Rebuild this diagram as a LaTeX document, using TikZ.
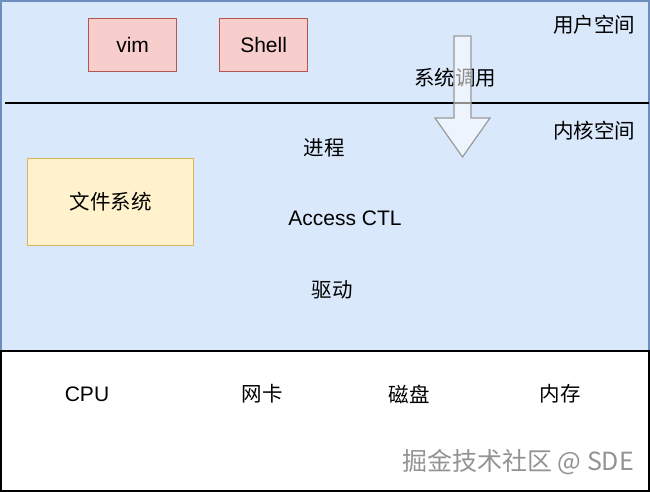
\documentclass[tikz,border=0pt]{standalone}
\usepackage{fontspec}
\setmainfont{Liberation Sans}
\newfontfamily\cjk{Noto Sans CJK SC}
\definecolor{kfill}{HTML}{DAE8FC}
\definecolor{kline}{HTML}{6C8EBF}
\definecolor{rfill}{HTML}{F8CECC}
\definecolor{rline}{HTML}{B85450}
\definecolor{yfill}{HTML}{FFF2CC}
\definecolor{yline}{HTML}{D6B656}
\tikzset{
  lbl/.style={inner sep=0pt, font=\fontsize{21}{24}\selectfont},
  cjklbl/.style={inner sep=0pt, font=\cjk\fontsize{20.5}{24}\selectfont},
  appbox/.style={draw=rline, fill=rfill, line width=1.2pt},
  fsbox/.style={draw=yline, fill=yfill, line width=1.2pt},
}
\begin{document}
\begin{tikzpicture}[x=1pt,y=-1pt]
\useasboundingbox (0,0) rectangle (650,492);
% kernel/user region
\draw[draw=kline, fill=kfill, line width=1.2pt] (1,1) rectangle (649,351);
% hardware region
\draw[draw=black, line width=1.2pt] (1,351) rectangle (649,491);
% separator
\coordinate (sepL) at (5,103);
\coordinate (sepR) at (649,103);
\draw[line width=1.2pt] (sepL) -- (sepR);
% apps
\node[appbox, minimum width=88pt, minimum height=53pt, anchor=north west] (vim) at (88,18) {};
\node[lbl] at (vim.center) {vim};
\node[appbox, minimum width=88pt, minimum height=53pt, anchor=north west] (shell) at (219,18) {};
\node[lbl] at (shell.center) {Shell};
% labels
\node[cjklbl] (user) at (594,25) {用户空间};
\node[cjklbl] (kern) at (594,131) {内核空间};
\node[cjklbl] (syscall) at (455,78) {系统调用};
% arrow
\draw[draw=gray!80, fill=white, fill opacity=0.55, line width=1.2pt]
  (454,36) -- (471,36) -- (471,118) -- (490,118) -- (462.5,157) -- (435,118) -- (454,118) -- cycle;
% kernel items
\node[cjklbl] (proc) at (324,148) {进程};
\node[lbl] (acl) at (345,218) {Access CTL};
\node[cjklbl] (drv) at (332,290) {驱动};
\node[fsbox, minimum width=166pt, minimum height=87pt, anchor=north west] (fs) at (27,158) {};
\node[cjklbl] at (fs.center) {文件系统};
% hardware
\node[lbl] (cpu) at (87,394) {CPU};
\node[cjklbl] (nic) at (262,394) {网卡};
\node[cjklbl] (disk) at (409,394) {磁盘};
\node[cjklbl] (mem) at (560,394) {内存};
% watermark
\node[inner sep=0pt, font=\cjk\fontsize{25}{28}\selectfont, text=gray!85] (wm) at (518,462) {掘金技术社区 @ SDE};
\end{tikzpicture}
\end{document}
